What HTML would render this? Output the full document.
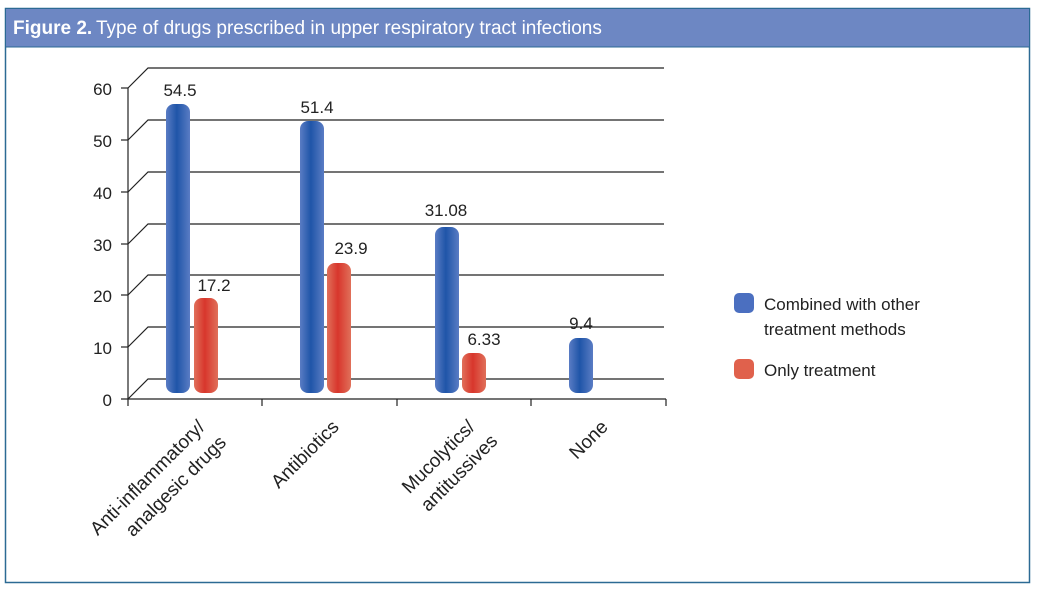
<!DOCTYPE html>
<html><head><meta charset="utf-8"><style>
body{margin:0;background:#fff;}
svg{display:block;font-family:"Liberation Sans",sans-serif;}
</style></head><body>
<svg width="1041" height="591" viewBox="0 0 1041 591" xmlns="http://www.w3.org/2000/svg">
<defs>
<linearGradient id="gb" x1="0" x2="1" y1="0" y2="0">
<stop offset="0" stop-color="#5a7cc4"/><stop offset="0.45" stop-color="#1f55a8"/><stop offset="1" stop-color="#5a7cc4"/></linearGradient>
<linearGradient id="gr" x1="0" x2="1" y1="0" y2="0">
<stop offset="0" stop-color="#e0705a"/><stop offset="0.45" stop-color="#d8362c"/><stop offset="1" stop-color="#e0705a"/></linearGradient>
</defs>
<rect x="5.5" y="8.5" width="1024" height="574" fill="#fff" stroke="#2c6a94" stroke-width="1.5"/>
<rect x="6" y="9" width="1023" height="38" fill="#6d87c3"/>
<line x1="6" y1="47" x2="1029" y2="47" stroke="#2c6a94" stroke-width="1"/>
<text x="13" y="34" font-size="19" fill="#fff" font-weight="bold">Figure 2.</text>
<text x="96" y="34" font-size="19" fill="#fff">Type of drugs prescribed in upper respiratory tract infections</text>
<g stroke="#222" stroke-width="1.2" fill="none">
<path d="M128 399 L148 379 H664"/><path d="M128 347 L148 327 H664"/><path d="M128 295 L148 275 H664"/>
<path d="M128 244 L148 224 H664"/><path d="M128 192 L148 172 H664"/><path d="M128 140 L148 120 H664"/>
<path d="M128 88 L148 68 H664"/>
<line x1="128" y1="88" x2="128" y2="406"/>
<line x1="121" y1="399" x2="666" y2="399"/>
<line x1="121" y1="347" x2="128" y2="347"/><line x1="121" y1="295" x2="128" y2="295"/><line x1="121" y1="244" x2="128" y2="244"/>
<line x1="121" y1="192" x2="128" y2="192"/><line x1="121" y1="140" x2="128" y2="140"/><line x1="121" y1="88" x2="128" y2="88"/>
<line x1="262" y1="399" x2="262" y2="406"/><line x1="397" y1="399" x2="397" y2="406"/><line x1="531" y1="399" x2="531" y2="406"/><line x1="666" y1="399" x2="666" y2="406"/>
</g>
<g font-size="17" fill="#222" text-anchor="end">
<text x="112" y="406">0</text><text x="112" y="354">10</text><text x="112" y="302">20</text>
<text x="112" y="251">30</text><text x="112" y="199">40</text><text x="112" y="147">50</text><text x="112" y="95">60</text>
</g>
<g>
<rect x="166" y="104" width="24" height="289" rx="8" fill="url(#gb)"/>
<rect x="194" y="298" width="24" height="95" rx="8" fill="url(#gr)"/>
<rect x="300" y="121" width="24" height="272" rx="8" fill="url(#gb)"/>
<rect x="327" y="263" width="24" height="130" rx="8" fill="url(#gr)"/>
<rect x="435" y="227" width="24" height="166" rx="8" fill="url(#gb)"/>
<rect x="462" y="353" width="24" height="40" rx="8" fill="url(#gr)"/>
<rect x="569" y="338" width="24" height="55" rx="8" fill="url(#gb)"/>
</g>
<g font-size="17" fill="#222" text-anchor="middle">
<text x="180" y="96">54.5</text><text x="214" y="291">17.2</text>
<text x="317" y="113">51.4</text><text x="351" y="254">23.9</text>
<text x="446" y="216">31.08</text><text x="484" y="345">6.33</text>
<text x="581" y="329">9.4</text>
</g>
<g font-size="19" fill="#222" text-anchor="end">
<g transform="translate(206,428) rotate(-45)"><text x="0" y="0">Anti-inflammatory/</text><text x="4" y="26">analgesic drugs</text></g>
<g transform="translate(340,428) rotate(-45)"><text x="0" y="0">Antibiotics</text></g>
<g transform="translate(476,428) rotate(-45)"><text x="0" y="0">Mucolytics/</text><text x="6" y="26">antitussives</text></g>
<g transform="translate(609,428) rotate(-45)"><text x="0" y="0">None</text></g>
</g>
<rect x="734" y="293" width="20" height="20" rx="5" fill="#4b6fc0"/>
<rect x="734" y="359" width="20" height="20" rx="5" fill="#e0614c"/>
<g font-size="17" fill="#222">
<text x="764" y="310">Combined with other</text>
<text x="764" y="335">treatment methods</text>
<text x="764" y="376">Only treatment</text>
</g>
</svg>
</body></html>
